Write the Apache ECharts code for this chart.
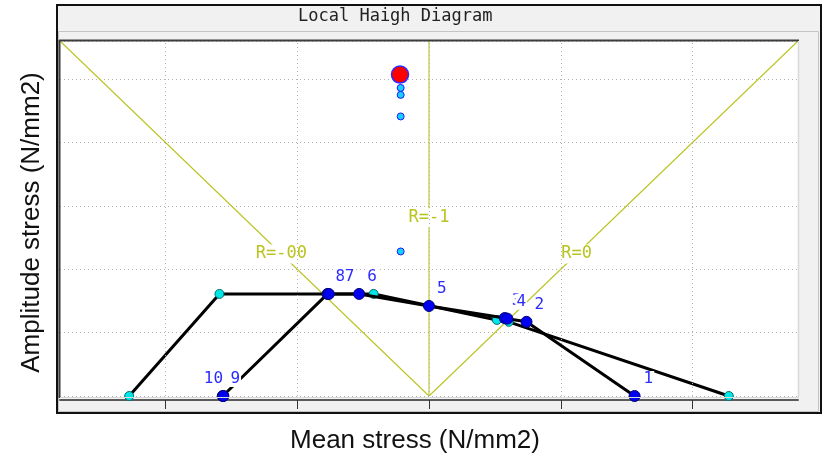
<!DOCTYPE html>
<html>
<head>
<meta charset="utf-8">
<script src="https://cdn.jsdelivr.net/npm/echarts@6/dist/echarts.min.js"></script>
<style>
  html, body { margin: 0; padding: 0; background: #ffffff; }
  #chart { width: 823px; height: 461px; }
</style>
</head>
<body>
<div id="chart"></div>
<script>
// ---- Axes (N/mm2) ----
const meanTicks = [-400, -200, 0, 200, 400];
const meanRange = [-560, 560];
const ampRange = [0, 560];
const ampStep = 100;

// ---- Haigh curve with cyan nodes ----
const curveAMean = [-455, -318, -84, 103, 121, 455];
const curveAAmp  = [0, 161, 161, 120, 117, 0];

// ---- Numbered Haigh curve with blue nodes ----
const curveBIds  = ['10', '9', '8', '7', '6', '5', '3', '4', '2', '1'];
const curveBMean = [-313, -312, -154, -152, -106, 0, 115, 119, 148, 312];
const curveBAmp  = [0, 0, 161, 161, 161, 142, 123, 122, 117, 0];

// ---- Load points: current one first, then history ----
const loadMean = [-44, -43, -43, -43, -43];
const loadAmp  = [507, 486, 475, 441, 228];

// ---- Stress-ratio reference lines, all starting at the origin ----
const rNames   = ['R=-00', 'R=-1', 'R=0'];
const rEnds    = [[-560, 560], [0, 560], [560, 560]];
const rLabelAt = [[-224, 224], [0, 281], [224, 224]];

// label placement for the numbered nodes (px from node centre)
const nodeLabelShift = {
  '1': [8, -17], '2': [7, -17], '3': [6, -17], '4': [8, -17], '5': [7, -17],
  '6': [7, -17], '7': [15, -17], '8': [7, -17], '9': [6, -17], '10': [-20, -17]
};

const RCOLOR = '#bac420';
const MONO = 'DejaVu Sans Mono';

const chart = echarts.init(document.getElementById('chart'), null, { renderer: 'canvas' });

const curveAData = curveAMean.map((m, i) => [m, curveAAmp[i]]);
const curveBData = curveBMean.map((m, i) => ({
  value: [m, curveBAmp[i]],
  name: curveBIds[i],
  label: { offset: nodeLabelShift[curveBIds[i]] }
}));

const rSeries = rNames.map((n, i) => ({
  type: 'line',
  name: n,
  data: [[0, 0], rEnds[i]],
  symbol: 'none',
  silent: true,
  z: 1,
  lineStyle: { color: RCOLOR, width: 1.1 },
  animation: false
}));

// ratio names sit on their lines, on a white patch
const rLabelSeries = {
  type: 'scatter',
  data: rLabelAt.map((p, i) => ({ value: p, name: rNames[i] })),
  symbol: 'rect',
  symbolSize: 1,
  itemStyle: { color: '#ffffff', opacity: 1 },
  silent: true,
  z: 3,
  label: {
    show: true,
    position: 'inside',
    formatter: p => p.name,
    fontFamily: MONO,
    fontSize: 17,
    color: RCOLOR,
    backgroundColor: '#ffffff',
    padding: [1, 1]
  },
  animation: false
};

const option = {
  backgroundColor: '#ffffff',
  animation: false,
  title: {
    text: 'Local Haigh Diagram',
    left: 298,
    top: 8,
    padding: 0,
    textStyle: { fontFamily: MONO, fontSize: 17, fontWeight: 'normal', color: '#222222' }
  },
  graphic: [
    // outer panel
    { type: 'rect', z: -20, shape: { x: 57, y: 5, width: 764, height: 408 },
      style: { fill: '#f1f1f1', stroke: '#111111', lineWidth: 2 } },
    { type: 'rect', z: -19, shape: { x: 58.5, y: 31.5, width: 760, height: 380 },
      style: { fill: 'none', stroke: '#c4c4c4', lineWidth: 1 } },
    // plot well
    { type: 'rect', z: -18, shape: { x: 60, y: 41, width: 738, height: 356 },
      style: { fill: '#ffffff' } },
    { type: 'line', z: 10, shape: { x1: 59, y1: 40.5, x2: 799, y2: 40.5 },
      style: { stroke: '#3c3c3c', lineWidth: 2 } },
    { type: 'line', z: 10, shape: { x1: 59.5, y1: 40, x2: 59.5, y2: 398 },
      style: { stroke: '#3c3c3c', lineWidth: 2 } },
    { type: 'line', z: 10, shape: { x1: 798.5, y1: 41, x2: 798.5, y2: 397 },
      style: { stroke: '#d9d9d9', lineWidth: 1.5 } },
    { type: 'line', z: 10, shape: { x1: 60, y1: 397.5, x2: 799, y2: 397.5 },
      style: { stroke: '#d9d9d9', lineWidth: 1 } }
  ],
  grid: { left: 60, top: 41, width: 738, height: 355, containLabel: false },
  xAxis: {
    type: 'value',
    min: meanRange[0],
    max: meanRange[1],
    offset: 4,
    name: 'Mean stress (N/mm2)',
    nameLocation: 'middle',
    nameGap: 28,
    nameTextStyle: { fontFamily: 'Liberation Sans', fontSize: 26, color: '#111111', padding: [0, 28, 0, 0] },
    axisLine: { show: true, onZero: false, lineStyle: { color: '#5a5a5a', width: 2 } },
    axisTick: { show: true, customValues: meanTicks, length: 9, lineStyle: { color: '#333333', width: 1 } },
    axisLabel: { show: false, customValues: meanTicks },
    splitLine: { show: false }
  },
  yAxis: {
    type: 'value',
    min: ampRange[0],
    max: ampRange[1],
    interval: ampStep,
    name: 'Amplitude stress (N/mm2)',
    nameLocation: 'middle',
    nameGap: 15,
    nameTextStyle: { fontFamily: 'Liberation Sans', fontSize: 26, color: '#111111', padding: [0, 8, 0, 0] },
    axisLine: { show: false },
    axisTick: { show: false },
    axisLabel: { show: false },
    splitLine: { show: true, lineStyle: { color: '#b4b4b4', width: 1, type: [1, 3] } }
  },
  series: [
    // vertical dotted grid at the mean-stress ticks
    {
      type: 'line',
      data: [],
      silent: true,
      z: 0,
      markLine: {
        silent: true,
        symbol: 'none',
        label: { show: false },
        lineStyle: { color: '#b4b4b4', width: 1, type: [1, 3] },
        data: meanTicks.map(v => ({ xAxis: v }))
      }
    },
    ...rSeries,
    rLabelSeries,
    {
      type: 'line',
      name: 'curveA',
      data: curveAData,
      z: 4,
      symbol: 'circle',
      symbolSize: 9,
      lineStyle: { color: '#000000', width: 3 },
      itemStyle: { color: '#00e6e6', borderColor: '#006f6f', borderWidth: 1 }
    },
    {
      type: 'line',
      name: 'curveB',
      data: curveBData,
      z: 5,
      symbol: 'circle',
      symbolSize: 11,
      lineStyle: { color: '#000000', width: 3 },
      itemStyle: { color: '#0000f0', borderColor: '#00007a', borderWidth: 1 },
      label: {
        show: true,
        position: 'inside',
        align: 'left',
        verticalAlign: 'middle',
        formatter: p => p.name,
        fontFamily: MONO,
        fontSize: 16,
        color: '#2b2bff',
        backgroundColor: '#ffffff',
        padding: [0, 1]
      }
    },
    {
      type: 'scatter',
      name: 'history',
      data: loadMean.slice(1).map((m, i) => [m, loadAmp[i + 1]]),
      z: 6,
      symbol: 'circle',
      symbolSize: 7,
      itemStyle: { color: '#18d0ff', borderColor: '#1a1aff', borderWidth: 1, opacity: 1 }
    },
    {
      type: 'scatter',
      name: 'current',
      data: [[loadMean[0], loadAmp[0]]],
      z: 7,
      symbol: 'circle',
      symbolSize: 17,
      itemStyle: { color: '#ff0000', borderColor: '#2a2aff', borderWidth: 1.5, opacity: 1 }
    }
  ]
};

chart.setOption(option);
</script>
</body>
</html>
